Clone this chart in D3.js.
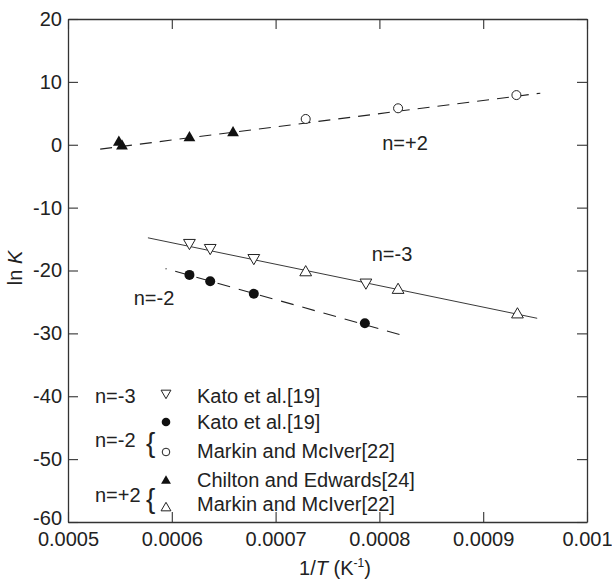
<!DOCTYPE html>
<html>
<head>
<meta charset="utf-8">
<script src="https://d3js.org/d3.v7.min.js"></script>
<style>
  body { margin: 0; background: #fff; }
  text { font-family: "Liberation Sans", Arial, sans-serif; fill: #222; }
</style>
</head>
<body>
<div id="chart"></div>
<script>
// data
const kato3 = [[0.000617, -15.6], [0.000637, -16.4], [0.000679, -18.0], [0.000787, -21.9]];      // open down-triangles
const kato2 = [[0.000617, -20.7], [0.000637, -21.7], [0.000679, -23.7], [0.000786, -28.4]];      // filled circles
const markinOpenCircle = [[0.000729, 4.1], [0.000818, 5.8], [0.000932, 7.9]];
const chilton = [[0.000549, 0.4], [0.000552, -0.2], [0.000617, 1.1], [0.000659, 1.9]];           // filled triangles
const markinOpenTri = [[0.000729, -20.3], [0.000818, -23.1], [0.000933, -27.0]];
const lineP2 = [[0.000531, -0.7], [0.000955, 8.2]];
const lineM3 = [[0.000577, -14.8], [0.000952, -27.6]];
const lineM2 = [[0.000594, -19.7], [0.00082, -30.2]];
const xTicks = [0.0005, 0.0006, 0.0007, 0.0008, 0.0009, 0.001];
const yTicks = [20, 10, 0, -10, -20, -30, -40, -50, -60];

const width = 612, height = 584;
const margin = {top: 19, right: 25, bottom: 62, left: 68};

const x = d3.scaleLinear([0.0005, 0.001], [margin.left, width - margin.right]);
const y = d3.scaleLinear([-60, 20], [height - margin.bottom, margin.top]);

const svg = d3.select("#chart").append("svg")
    .attr("width", width).attr("height", height);

const fs = 20;
const tri = d3.symbol().type(d3.symbolTriangle).size(60);
const triSmall = d3.symbol().type(d3.symbolTriangle).size(42);

// axes (ticks point inward, mirrored on top/right)
const ax = (g, axis) => g.call(axis).call(g => g.select(".domain").attr("stroke", "#333").attr("stroke-width", 1.3))
    .call(g => g.selectAll(".tick line").attr("stroke", "#333").attr("stroke-width", 1.1));

svg.append("g").attr("transform", `translate(0,${y(-60)})`)
    .call(g => ax(g, d3.axisBottom(x).tickValues(xTicks).tickSizeInner(-10).tickSizeOuter(0).tickPadding(10).tickFormat(d => d === 0.001 ? "0.001" : d3.format(".4f")(d))))
    .selectAll("text").attr("font-size", fs).attr("font-family", "Liberation Sans, Arial").attr("fill", "#222");
svg.append("g").attr("transform", `translate(0,${y(20)})`)
    .call(g => ax(g, d3.axisTop(x).tickValues(xTicks).tickSizeInner(-10).tickSizeOuter(0).tickFormat("")));
const yAxisG = svg.append("g").attr("transform", `translate(${x(0.0005)},0)`)
    .call(g => ax(g, d3.axisLeft(y).tickValues(yTicks).tickSizeInner(-10).tickSizeOuter(0).tickPadding(6).tickFormat(d => String(d))));
yAxisG.selectAll("text").attr("font-size", fs).attr("font-family", "Liberation Sans, Arial").attr("fill", "#222");
// the bottom label sits a touch higher so it clears 0.0005
yAxisG.selectAll(".tick").filter(d => d === -60).select("text").attr("dy", "0.12em");
svg.append("g").attr("transform", `translate(${x(0.001)},0)`)
    .call(g => ax(g, d3.axisRight(y).tickValues(yTicks).tickSizeInner(-10).tickSizeOuter(0).tickFormat("")));

// fitted lines
const line = d3.line().x(d => x(d[0])).y(d => y(d[1]));
svg.append("path").datum(lineP2).attr("d", line).attr("fill", "none")
    .attr("stroke", "#222").attr("stroke-width", 1.1).attr("stroke-dasharray", "12,8");
svg.append("path").datum(lineM3).attr("d", line).attr("fill", "none")
    .attr("stroke", "#222").attr("stroke-width", 0.9);
svg.append("path").datum(lineM2).attr("d", line).attr("fill", "none")
    .attr("stroke", "#222").attr("stroke-width", 1.1).attr("stroke-dasharray", "13,9").attr("stroke-dashoffset", 12);

// markers
svg.selectAll(".k3").data(kato3).join("path")
    .attr("d", tri).attr("transform", d => `translate(${x(d[0])},${y(d[1])}) rotate(180)`)
    .attr("fill", "#fff").attr("stroke", "#222").attr("stroke-width", 1);
svg.selectAll(".mt").data(markinOpenTri).join("path")
    .attr("d", tri).attr("transform", d => `translate(${x(d[0])},${y(d[1])})`)
    .attr("fill", "#fff").attr("stroke", "#222").attr("stroke-width", 1);
svg.selectAll(".k2").data(kato2).join("circle")
    .attr("cx", d => x(d[0])).attr("cy", d => y(d[1])).attr("r", 5).attr("fill", "#111");
svg.selectAll(".mc").data(markinOpenCircle).join("circle")
    .attr("cx", d => x(d[0])).attr("cy", d => y(d[1])).attr("r", 4.5)
    .attr("fill", "#fff").attr("stroke", "#222").attr("stroke-width", 1);
svg.selectAll(".ch").data(chilton).join("path")
    .attr("d", tri).attr("transform", d => `translate(${x(d[0])},${y(d[1])})`).attr("fill", "#111");

// line labels
svg.append("text").attr("x", 405).attr("y", 150).attr("text-anchor", "middle").attr("font-size", fs).text("n=+2");
svg.append("text").attr("x", 392).attr("y", 261).attr("text-anchor", "middle").attr("font-size", fs).text("n=-3");
svg.append("text").attr("x", 154).attr("y", 305).attr("text-anchor", "middle").attr("font-size", fs).text("n=-2");

// legend
const lx = 166, tx = 197;
const legend = svg.append("g").attr("font-size", fs);
legend.append("text").attr("x", 95).attr("y", 403).text("n=-3");
legend.append("path").attr("d", triSmall).attr("transform", `translate(${lx},393) rotate(180)`)
    .attr("fill", "#fff").attr("stroke", "#222");
legend.append("text").attr("x", tx).attr("y", 403).text("Kato et al.[19]");

legend.append("text").attr("x", 95).attr("y", 447).text("n=-2");
legend.append("text").attr("x", 146).attr("y", 452).attr("font-size", 28).text("{");
legend.append("circle").attr("cx", lx).attr("cy", 422).attr("r", 4.3).attr("fill", "#111");
legend.append("circle").attr("cx", lx).attr("cy", 452).attr("r", 3.8).attr("fill", "#fff").attr("stroke", "#222");
legend.append("text").attr("x", tx).attr("y", 429).text("Kato et al.[19]");
legend.append("text").attr("x", tx).attr("y", 458).text("Markin and McIver[22]");

legend.append("text").attr("x", 95).attr("y", 502).text("n=+2");
legend.append("text").attr("x", 146).attr("y", 508).attr("font-size", 28).text("{");
legend.append("path").attr("d", triSmall).attr("transform", `translate(${lx},481)`).attr("fill", "#111");
legend.append("path").attr("d", triSmall).attr("transform", `translate(${lx},508)`)
    .attr("fill", "#fff").attr("stroke", "#222");
legend.append("text").attr("x", tx).attr("y", 487).text("Chilton and Edwards[24]");
legend.append("text").attr("x", tx).attr("y", 511).text("Markin and McIver[22]");

// axis titles
const xl = svg.append("text").attr("x", 335).attr("y", 575).attr("text-anchor", "middle").attr("font-size", fs);
xl.append("tspan").text("1/");
xl.append("tspan").attr("font-style", "italic").text("T");
xl.append("tspan").text(" (K");
xl.append("tspan").attr("font-size", 12).attr("dy", -8).text("-1");
xl.append("tspan").attr("dy", 8).text(")");

const yl = svg.append("text").attr("transform", "translate(22,268) rotate(-90)")
    .attr("text-anchor", "middle").attr("font-size", fs);
yl.append("tspan").text("ln ");
yl.append("tspan").attr("font-style", "italic").text("K");
</script>
</body>
</html>
